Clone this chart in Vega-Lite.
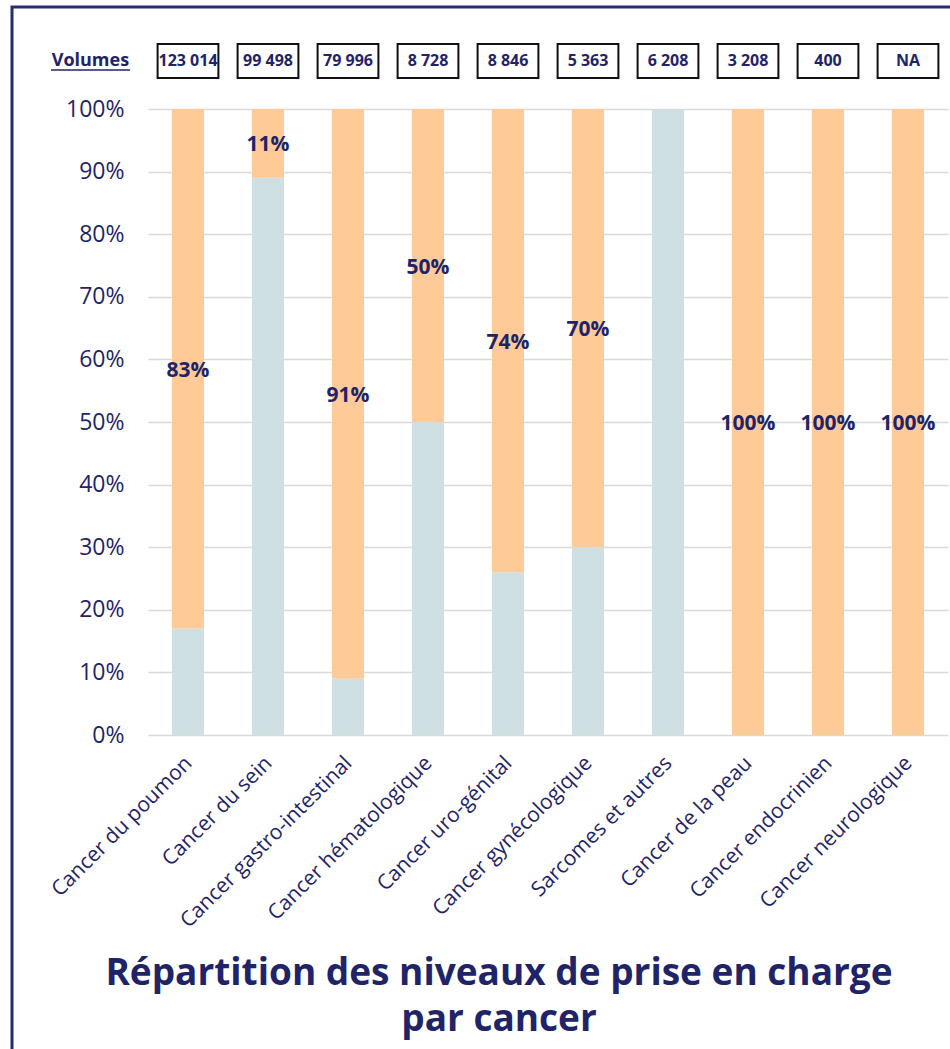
{
  "$schema": "https://vega.github.io/schema/vega-lite/v6.json",
  "autosize": "none",
  "padding": {"left": 12, "top": 7, "right": 0, "bottom": 0},
  "width": 974,
  "height": 1060,
  "view": {"stroke": "#262d72", "strokeWidth": 3},
  "config": {"font": "Open Sans"},
  "title": {
    "text": ["Répartition des niveaux de prise en charge", "par cancer"],
    "orient": "bottom",
    "anchor": "middle",
    "frame": "group",
    "offset": -111,
    "fontSize": 37,
    "fontWeight": "bold",
    "color": "#1f2468",
    "lineHeight": 46
  },
  "datasets": {
    "parts": [
      {"cat": "Cancer du poumon", "niveau": "Niveau 1", "part": 0.17, "label": "17%"},
      {"cat": "Cancer du poumon", "niveau": "Niveau 2", "part": 0.83, "label": "83%"},
      {"cat": "Cancer du sein", "niveau": "Niveau 1", "part": 0.89, "label": "89%"},
      {"cat": "Cancer du sein", "niveau": "Niveau 2", "part": 0.11, "label": "11%"},
      {"cat": "Cancer gastro-intestinal", "niveau": "Niveau 1", "part": 0.09, "label": "9%"},
      {"cat": "Cancer gastro-intestinal", "niveau": "Niveau 2", "part": 0.91, "label": "91%"},
      {"cat": "Cancer hématologique", "niveau": "Niveau 1", "part": 0.50, "label": "50%"},
      {"cat": "Cancer hématologique", "niveau": "Niveau 2", "part": 0.50, "label": "50%"},
      {"cat": "Cancer uro-génital", "niveau": "Niveau 1", "part": 0.26, "label": "26%"},
      {"cat": "Cancer uro-génital", "niveau": "Niveau 2", "part": 0.74, "label": "74%"},
      {"cat": "Cancer gynécologique", "niveau": "Niveau 1", "part": 0.30, "label": "30%"},
      {"cat": "Cancer gynécologique", "niveau": "Niveau 2", "part": 0.70, "label": "70%"},
      {"cat": "Sarcomes et autres", "niveau": "Niveau 1", "part": 1.00, "label": "100%"},
      {"cat": "Sarcomes et autres", "niveau": "Niveau 2", "part": 0.0, "label": "0%"},
      {"cat": "Cancer de la peau", "niveau": "Niveau 1", "part": 0.0, "label": "0%"},
      {"cat": "Cancer de la peau", "niveau": "Niveau 2", "part": 1.00, "label": "100%"},
      {"cat": "Cancer endocrinien", "niveau": "Niveau 1", "part": 0.0, "label": "0%"},
      {"cat": "Cancer endocrinien", "niveau": "Niveau 2", "part": 1.00, "label": "100%"},
      {"cat": "Cancer neurologique", "niveau": "Niveau 1", "part": 0.0, "label": "0%"},
      {"cat": "Cancer neurologique", "niveau": "Niveau 2", "part": 1.00, "label": "100%"}
    ],
    "volumes": [
      {"cat": "Cancer du poumon", "vol": "123 014"},
      {"cat": "Cancer du sein", "vol": "99 498"},
      {"cat": "Cancer gastro-intestinal", "vol": "79 996"},
      {"cat": "Cancer hématologique", "vol": "8 728"},
      {"cat": "Cancer uro-génital", "vol": "8 846"},
      {"cat": "Cancer gynécologique", "vol": "5 363"},
      {"cat": "Sarcomes et autres", "vol": "6 208"},
      {"cat": "Cancer de la peau", "vol": "3 208"},
      {"cat": "Cancer endocrinien", "vol": "400"},
      {"cat": "Cancer neurologique", "vol": "NA"}
    ],
    "entete": [{"t": "Volumes"}]
  },
  "encoding": {
    "x": {
      "field": "cat",
      "type": "nominal",
      "scale": {
        "domain": ["Cancer du poumon", "Cancer du sein", "Cancer gastro-intestinal", "Cancer hématologique", "Cancer uro-génital", "Cancer gynécologique", "Sarcomes et autres", "Cancer de la peau", "Cancer endocrinien", "Cancer neurologique"],
        "range": [136, 936],
        "paddingInner": 0.6,
        "paddingOuter": 0.3
      },
      "axis": {
        "title": null,
        "labelAngle": -45,
        "labelFontSize": 21,
        "labelColor": "#1f2468",
        "domain": false,
        "ticks": false,
        "offset": -332,
        "labelPadding": 17,
        "labelOffset": -7,
        "labelLimit": 400
      }
    }
  },
  "layer": [
    {
      "data": {"name": "parts"},
      "mark": {"type": "bar"},
      "encoding": {
        "y": {
          "field": "part",
          "type": "quantitative",
          "stack": "zero",
          "scale": {"domain": [0, 1], "range": [728, 102], "nice": false},
          "axis": {
            "title": null,
            "values": [0, 0.1, 0.2, 0.3, 0.4, 0.5, 0.6, 0.7, 0.8, 0.9, 1],
            "format": ".0%",
            "grid": true,
            "gridColor": "#d9d9d9",
            "gridWidth": 1.5,
            "domain": false,
            "ticks": false,
            "labelFontSize": 23,
            "labelColor": "#1f2468",
            "labelPadding": 0,
            "offset": -112
          }
        },
        "color": {
          "field": "niveau",
          "type": "nominal",
          "scale": {"domain": ["Niveau 1", "Niveau 2"], "range": ["#cfe0e2", "#fecb98"]},
          "legend": null
        },
        "order": {"field": "niveau", "sort": "ascending"}
      }
    },
    {
      "data": {"name": "parts"},
      "transform": [
        {"stack": "part", "groupby": ["cat"], "sort": [{"field": "niveau", "order": "ascending"}], "as": ["s0", "s1"]},
        {"filter": "datum.niveau === 'Niveau 2' && datum.part > 0"},
        {"fold": ["s0", "s1"], "as": ["bord", "v"]}
      ],
      "mark": {"type": "text", "fontWeight": "bold", "fontSize": 21, "color": "#1f2468", "baseline": "middle", "dy": 2},
      "encoding": {
        "y": {"aggregate": "mean", "field": "v", "type": "quantitative"},
        "text": {"field": "label", "type": "nominal"}
      }
    },
    {
      "data": {"name": "volumes"},
      "mark": {"type": "bar", "fill": "#ffffff", "stroke": "#111111", "strokeWidth": 2, "width": {"band": 1.9}},
      "encoding": {
        "y": {"datum": 1.0495, "type": "quantitative"},
        "y2": {"datum": 1.104}
      }
    },
    {
      "data": {"name": "volumes"},
      "mark": {"type": "text", "fontWeight": "bold", "fontSize": 16, "color": "#1f2468", "baseline": "middle"},
      "encoding": {
        "y": {"datum": 1.0767, "type": "quantitative"},
        "text": {"field": "vol", "type": "nominal"}
      }
    },
    {
      "data": {"name": "entete"},
      "mark": {"type": "text", "fontWeight": "bold", "fontSize": 18, "color": "#1f2468", "baseline": "middle", "align": "center"},
      "encoding": {
        "x": {"datum": "Cancer du poumon", "bandPosition": -2.55},
        "y": {"datum": 1.0767, "type": "quantitative"},
        "text": {"field": "t", "type": "nominal"}
      }
    },
    {
      "data": {"name": "entete"},
      "mark": {"type": "rule", "color": "#1f2468", "strokeWidth": 1.5},
      "encoding": {
        "x": {"datum": "Cancer du poumon", "bandPosition": -3.78},
        "x2": {"datum": "Cancer du poumon", "bandPosition": -1.31},
        "y": {"datum": 1.0623, "type": "quantitative"}
      }
    }
  ]
}
